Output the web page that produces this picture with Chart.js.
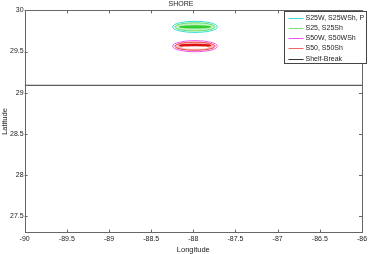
<!DOCTYPE html>
<html>
<head>
<meta charset="utf-8">
<script src="https://cdn.jsdelivr.net/npm/chart.js@4/dist/chart.umd.min.js"></script>
<style>
  html, body { margin: 0; padding: 0; background: #fff; }
  #wrap { width: 370px; height: 254px; }
</style>
</head>
<body>
<div id="wrap"><canvas id="graph"></canvas></div>
<script>
// ticks
var xTicks = [-90, -89.5, -89, -88.5, -88, -87.5, -87, -86.5, -86];
var yTicks = [27.5, 28, 28.5, 29, 29.5, 30];

// shelf-break line
var shelfLon = [-90, -86];
var shelfLat = [29.09, 29.09];

// ellipses (centre and half-axes in degrees)
var ellLabel = ['S25W, S25WSh, P', 'S25, S25Sh', 'S25, S25Sh', 'S50W, S50WSh', 'S50, S50Sh', 'S50, S50Sh', 'S50, S50Sh'];
var ellLon   = [-87.98, -87.98, -87.98, -87.98, -87.98, -87.98, -87.98];
var ellLat   = [29.80, 29.80, 29.80, 29.565, 29.565, 29.575, 29.55];
var ellRx    = [0.265, 0.24, 0.18, 0.265, 0.24, 0.18, 0.15];
var ellRy    = [0.068, 0.05, 0.008, 0.068, 0.05, 0.008, 0.006];

// legend
var legendLabels = ['S25W, S25WSh, P', 'S25, S25Sh', 'S50W, S50WSh', 'S50, S50Sh', 'Shelf-Break'];
var legendColors = ['#33dddd', '#77dd77', '#ee55ee', '#ee6666', '#333333'];

var ellStroke = ['#33dddd', '#66dd66', '#33cc33', '#ee55ee', '#ee4444', '#dd1111', '#ffffff'];
var ellFill   = [null, 'rgba(150,235,150,0.6)', null, null, 'rgba(245,160,160,0.7)', null, null];
var ellWidth  = [1, 1, 2, 1, 1, 2, 1.5];

var font = 'Arial, "Liberation Sans", sans-serif';

var shelfData = shelfLon.map(function(x, i) { return {x: x, y: shelfLat[i]}; });

var ellipsePlugin = {
    id: 'ellipses',
    afterDatasetsDraw: function(chart) {
        var ctx = chart.ctx, xs = chart.scales.x, ys = chart.scales.y;
        ctx.save();
        for (var i = 0; i < ellLon.length; i++) {
            var cx = xs.getPixelForValue(ellLon[i]);
            var cy = ys.getPixelForValue(ellLat[i]);
            var rx = Math.abs(xs.getPixelForValue(ellLon[i] + ellRx[i]) - cx);
            var ry = Math.abs(ys.getPixelForValue(ellLat[i] + ellRy[i]) - cy);
            ctx.beginPath();
            ctx.ellipse(cx, cy, rx, Math.max(ry, 0.5), 0, 0, Math.PI * 2);
            if (ellFill[i]) { ctx.fillStyle = ellFill[i]; ctx.fill(); }
            ctx.strokeStyle = ellStroke[i];
            ctx.lineWidth = ellWidth[i];
            ctx.stroke();
        }
        ctx.restore();
    }
};

var framePlugin = {
    id: 'frame',
    afterDraw: function(chart) {
        var ctx = chart.ctx, a = chart.chartArea, xs = chart.scales.x, ys = chart.scales.y;
        ctx.save();
        ctx.strokeStyle = '#666';
        ctx.lineWidth = 1;
        ctx.strokeRect(Math.round(a.left) + 0.5, Math.round(a.top) + 0.5,
                       Math.round(a.right - a.left), Math.round(a.bottom - a.top));
        // inward ticks
        ctx.beginPath();
        xTicks.forEach(function(v) {
            var px = Math.round(xs.getPixelForValue(v)) + 0.5;
            ctx.moveTo(px, a.bottom); ctx.lineTo(px, a.bottom - 3);
            ctx.moveTo(px, a.top); ctx.lineTo(px, a.top + 3);
        });
        yTicks.forEach(function(v) {
            var py = Math.round(ys.getPixelForValue(v)) + 0.5;
            ctx.moveTo(a.left, py); ctx.lineTo(a.left + 3, py);
            ctx.moveTo(a.right, py); ctx.lineTo(a.right - 3, py);
        });
        ctx.stroke();

        // legend box
        var bx = 284.5, by = 11.5, bw = 82, bh = 52;
        ctx.fillStyle = '#fff';
        ctx.fillRect(bx, by, bw, bh);
        ctx.strokeStyle = '#444';
        ctx.strokeRect(bx, by, bw, bh);
        ctx.font = '7px ' + font;
        ctx.textBaseline = 'middle';
        ctx.textAlign = 'left';
        legendLabels.forEach(function(t, i) {
            var y = Math.round(by + 6 + i * 10.3) + 0.5;
            ctx.strokeStyle = legendColors[i];
            ctx.beginPath();
            ctx.moveTo(bx + 4, y); ctx.lineTo(bx + 19, y);
            ctx.stroke();
            ctx.fillStyle = '#222';
            ctx.fillText(t, bx + 21, y);
        });
        ctx.restore();
    }
};

function plain(v) { return String(v); }

new Chart(document.getElementById('graph').getContext('2d'), {
    type: 'scatter',
    data: {
        datasets: [{
            label: 'Shelf-Break',
            data: shelfData,
            showLine: true,
            borderColor: '#333333',
            borderWidth: 1,
            pointRadius: 0
        }]
    },
    options: {
        responsive: true,
        maintainAspectRatio: false,
        animation: false,
        layout: { padding: { left: 0, right: 8, top: 0, bottom: 0 } },
        plugins: {
            legend: { display: false },
            tooltip: { enabled: false },
            title: {
                display: true,
                text: 'SHORE',
                color: '#222',
                font: { family: font, size: 7, weight: 'normal' },
                padding: { top: 0, bottom: 2 }
            }
        },
        scales: {
            x: {
                type: 'linear',
                min: -90, max: -86,
                afterBuildTicks: function(s) { s.ticks = xTicks.map(function(v) { return {value: v}; }); },
                grid: { display: false, drawTicks: false },
                border: { display: false },
                ticks: { color: '#222', font: { family: font, size: 7 }, padding: 2, maxRotation: 0, autoSkip: false, callback: plain },
                title: { display: true, text: 'Longitude', color: '#222', font: { family: font, size: 7.5 }, padding: 0 }
            },
            y: {
                type: 'linear',
                min: 27.3, max: 30,
                afterBuildTicks: function(s) { s.ticks = yTicks.map(function(v) { return {value: v}; }); },
                grid: { display: false, drawTicks: false },
                border: { display: false },
                ticks: { color: '#222', font: { family: font, size: 7 }, padding: 1, autoSkip: false, callback: plain },
                title: { display: true, text: 'Latitude', color: '#222', font: { family: font, size: 7.5 }, padding: 0 }
            }
        }
    },
    plugins: [ellipsePlugin, framePlugin]
});
</script>
</body>
</html>
